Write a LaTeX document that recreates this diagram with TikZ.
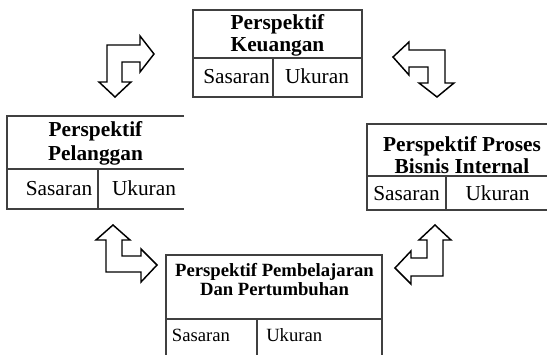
\documentclass[tikz,border=0pt]{standalone}
\usepackage{fontspec}
\setmainfont{Liberation Serif}
\begin{document}
\begin{tikzpicture}[x=0.75pt,y=-0.75pt,
  frame/.style={draw=black!75, line width=0.8pt},
  head/.style={font=\fontsize{16}{16}\selectfont\bfseries, inner sep=0pt, anchor=base},
  cell/.style={font=\fontsize{16}{16}\selectfont, inner sep=0pt, anchor=base},
  headsm/.style={font=\fontsize{14}{14}\selectfont\bfseries, inner sep=0pt, anchor=base},
  cellsm/.style={font=\fontsize{14}{14}\selectfont, inner sep=0pt, anchor=base west},
  turn/.style={draw=black, line width=1.1pt, line join=miter, fill=white}]
\useasboundingbox (0,0) rectangle (547,354);
\begin{scope}
\clip (0,0) rectangle (547,354);

% --- Perspektif Keuangan (top) ---
\draw[frame] (193,10) rectangle (362,97);
\draw[frame] (193,58) -- (362,58);
\draw[frame] (273,58) -- (273,97);
\node[head] (finA) at (277.5,29.5) {Perspektif};
\node[head] (finB) at (277.5,51.7) {Keuangan};
\node[cell] (finS) at (236.5,83) {Sasaran};
\node[cell] (finU) at (317,83) {Ukuran};

% --- Perspektif Pelanggan (left) ---
\draw[frame] (184,116) -- (7,116) -- (7,209) -- (184,209);
\draw[frame] (7,169) -- (184,169);
\draw[frame] (98,169) -- (98,209);
\node[head] (cusA) at (95.5,136.7) {Perspektif};
\node[head] (cusB) at (95.5,160) {Pelanggan};
\node[cell] (cusS) at (59,195) {Sasaran};
\node[cell] (cusU) at (144,195) {Ukuran};

% --- Perspektif Proses Bisnis Internal (right) ---
\draw[frame] (560,124) -- (367,124) -- (367,210) -- (560,210);
\draw[frame] (367,176) -- (560,176);
\draw[frame] (446,176) -- (446,210);
\node[head] (intA) at (462,151.7) {Perspektif Proses};
\node[head] (intB) at (462,173) {Bisnis Internal};
\node[cell] (intS) at (406.5,200.7) {Sasaran};
\node[cell] (intU) at (497.5,200.7) {Ukuran};

% --- Perspektif Pembelajaran dan Pertumbuhan (bottom) ---
\draw[frame] (166,370) -- (166,255) -- (382,255) -- (382,370);
\draw[frame] (166,319) -- (382,319);
\draw[frame] (257,319) -- (257,370);
\node[headsm] (lrnA) at (274.5,276.7) {Perspektif Pembelajaran};
\node[headsm] (lrnB) at (274.5,295.5) {Dan Pertumbuhan};
\node[cellsm] (lrnS) at (171.7,341.7) {Sasaran};
\node[cellsm] (lrnU) at (266,341.7) {Ukuran};

% --- turning double arrows between the perspectives ---
% upper left: down / right
\draw[turn] (115,97) -- (99,82) -- (107,82) -- (107,45) -- (140,45) -- (140,36)
  -- (154,54) -- (140,72) -- (140,62) -- (122,62) -- (122,82) -- (131,82) -- cycle;
% upper right: left / down
\draw[turn] (393,57) -- (409,42) -- (409,50) -- (445,50) -- (445,83) -- (454,83)
  -- (437,97) -- (419,83) -- (428,83) -- (428,67) -- (409,67) -- (409,75) -- cycle;
% lower left: up / right
\draw[turn] (113,225) -- (130,240) -- (122,240) -- (122,256) -- (141,256) -- (141,249)
  -- (157,265) -- (141,282) -- (141,272) -- (106,272) -- (106,240) -- (96,240) -- cycle;
% lower right: up / left
\draw[turn] (435,225) -- (451,240) -- (443,240) -- (443,276) -- (411,276) -- (411,284)
  -- (395,268) -- (411,251) -- (411,258) -- (427,258) -- (427,240) -- (419,240) -- cycle;
\end{scope}
\end{tikzpicture}
\end{document}
